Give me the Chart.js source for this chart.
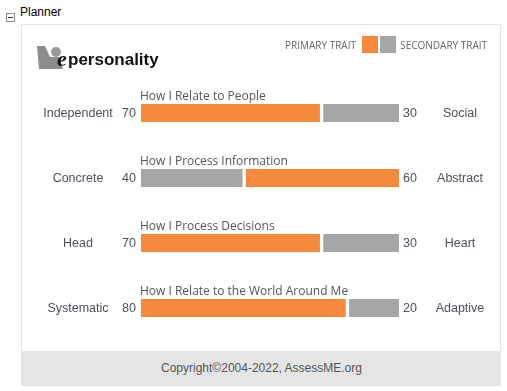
<!DOCTYPE html>
<html>
<head>
<meta charset="utf-8">
<script src="https://cdn.jsdelivr.net/npm/chart.js@4"></script>
<style>
	body { margin: 0; background: #fff; font-family: "Liberation Sans", Arial, sans-serif; }
	#page { position: relative; width: 507px; height: 391px; overflow: hidden; }
	#toggle { position: absolute; left: 6px; top: 13px; width: 7px; height: 7px; border: 1px solid #8a8a8a; }
	#toggle:after { content: ''; position: absolute; left: 1px; top: 3px; width: 5px; height: 1px; background: #333; }
	#title { position: absolute; left: 20px; top: 5px; font-size: 12px; color: #000; }
	#card { position: absolute; left: 21px; top: 24px; width: 478px; height: 361px; border: 1px solid #e4e4e4; border-bottom: none; }
	#footer { position: absolute; left: 0; top: 326px; width: 479px; height: 35px; background: #e5e5e5;
		font-size: 12px; color: #555; text-align: center; line-height: 34px; }
	#logo { position: absolute; left: 15px; top: 15px; }
	#legend { position: absolute; left: 263px; top: 11px; font-family: "Open Sans", sans-serif; font-size: 10px; color: #666; white-space: nowrap; }
	#legend span { display: inline-block; vertical-align: middle; }
	.sw { width: 16px; height: 17px; }
	canvas { position: absolute; left: 0; top: 0; }
</style>
</head>
<body>
<div id="page">
	<div id="toggle"></div>
	<div id="title">Planner</div>
	<div id="card">
		<canvas id="main-chart" width="478" height="326"></canvas>
		<svg id="logo" width="130" height="32">
			<polygon points="0,6 8,6 13,17 22,17 26,29 2,29" fill="#8c8c8c"/>
			<circle cx="19" cy="12" r="5" fill="#9a9a9a"/>
			<text x="20" y="26" font-family="Liberation Serif" font-style="italic" font-weight="bold" font-size="22" fill="#111">e</text>
			<text x="31" y="25" font-family="Liberation Sans" font-weight="bold" font-size="17" fill="#111">personality</text>
		</svg>
		<div id="legend">
			<span>PRIMARY TRAIT</span>
			<span class="sw" style="background:#f5883a;margin-left:3px"></span><span class="sw" style="background:#a6a6a6;margin-left:2px"></span>
			<span style="margin-left:2px">SECONDARY TRAIT</span>
		</div>
		<div id="footer">Copyright&#169;2004-2022, AssessME.org</div>
	</div>
</div>
<script>
	var categories = ['How I Relate to People', 'How I Process Information', 'How I Process Decisions', 'How I Relate to the World Around Me'];
	var leftTraits = ['Independent', 'Concrete', 'Head', 'Systematic'];
	var rightTraits = ['Social', 'Abstract', 'Heart', 'Adaptive'];
	var leftScores = [70, 40, 70, 80];
	var rightScores = [30, 60, 30, 20];

	var primaryColor = '#f5883a';
	var secondaryColor = '#a6a6a6';

	// bigger score is the primary trait
	var leftColors = leftScores.map(function(v, i) { return v >= rightScores[i] ? primaryColor : secondaryColor; });
	var rightColors = rightScores.map(function(v, i) { return v > leftScores[i] ? primaryColor : secondaryColor; });

	// titles, trait names and scores next to each bar
	var traitLabels = {
		id: 'traitLabels',
		afterDatasetsDraw(chart) {
			var ctx = chart.ctx;
			var xs = chart.scales.x;
			var ys = chart.scales.y;
			var x0 = xs.getPixelForValue(0);
			var x1 = xs.getPixelForValue(100);
			ctx.save();
			categories.forEach(function(cat, i) {
				var y = ys.getPixelForValue(i);
				ctx.fillStyle = '#555';
				ctx.font = '12px "Open Sans", sans-serif';
				ctx.textAlign = 'left';
				ctx.textBaseline = 'alphabetic';
				ctx.fillText(cat, x0 - 1, y - 13);

				ctx.font = '12.5px "Liberation Sans", Arial, sans-serif';
				ctx.fillStyle = '#4f4f5c';
				ctx.textBaseline = 'middle';
				ctx.textAlign = 'center';
				ctx.fillText(leftTraits[i], x0 - 63, y + 1);
				ctx.fillText(rightTraits[i], x1 + 61, y + 1);
				ctx.textAlign = 'right';
				ctx.fillText(leftScores[i], x0 - 5, y + 1);
				ctx.textAlign = 'left';
				ctx.fillText(rightScores[i], x1 + 4, y + 1);
			});
			ctx.restore();
		}
	};

	var chart = new Chart(document.getElementById('main-chart'), {
		type: 'bar',
		data: {
			labels: categories,
			datasets: [{
				data: leftScores,
				backgroundColor: leftColors,
				borderColor: '#fff',
				borderWidth: { left: 0, right: 2, top: 0, bottom: 0 },
				borderSkipped: false,
				barThickness: 18
			}, {
				data: rightScores,
				backgroundColor: rightColors,
				borderColor: '#fff',
				borderWidth: { left: 2, right: 0, top: 0, bottom: 0 },
				borderSkipped: false,
				barThickness: 18
			}]
		},
		options: {
			indexAxis: 'y',
			responsive: false,
			animation: false,
			layout: { padding: { left: 119, right: 101, top: 55.5, bottom: 10.5 } },
			scales: {
				x: { stacked: true, min: 0, max: 100, display: false },
				y: { stacked: true, display: false }
			},
			plugins: { legend: { display: false }, tooltip: { enabled: false } }
		},
		plugins: [traitLabels]
	});
</script>
</body>
</html>
